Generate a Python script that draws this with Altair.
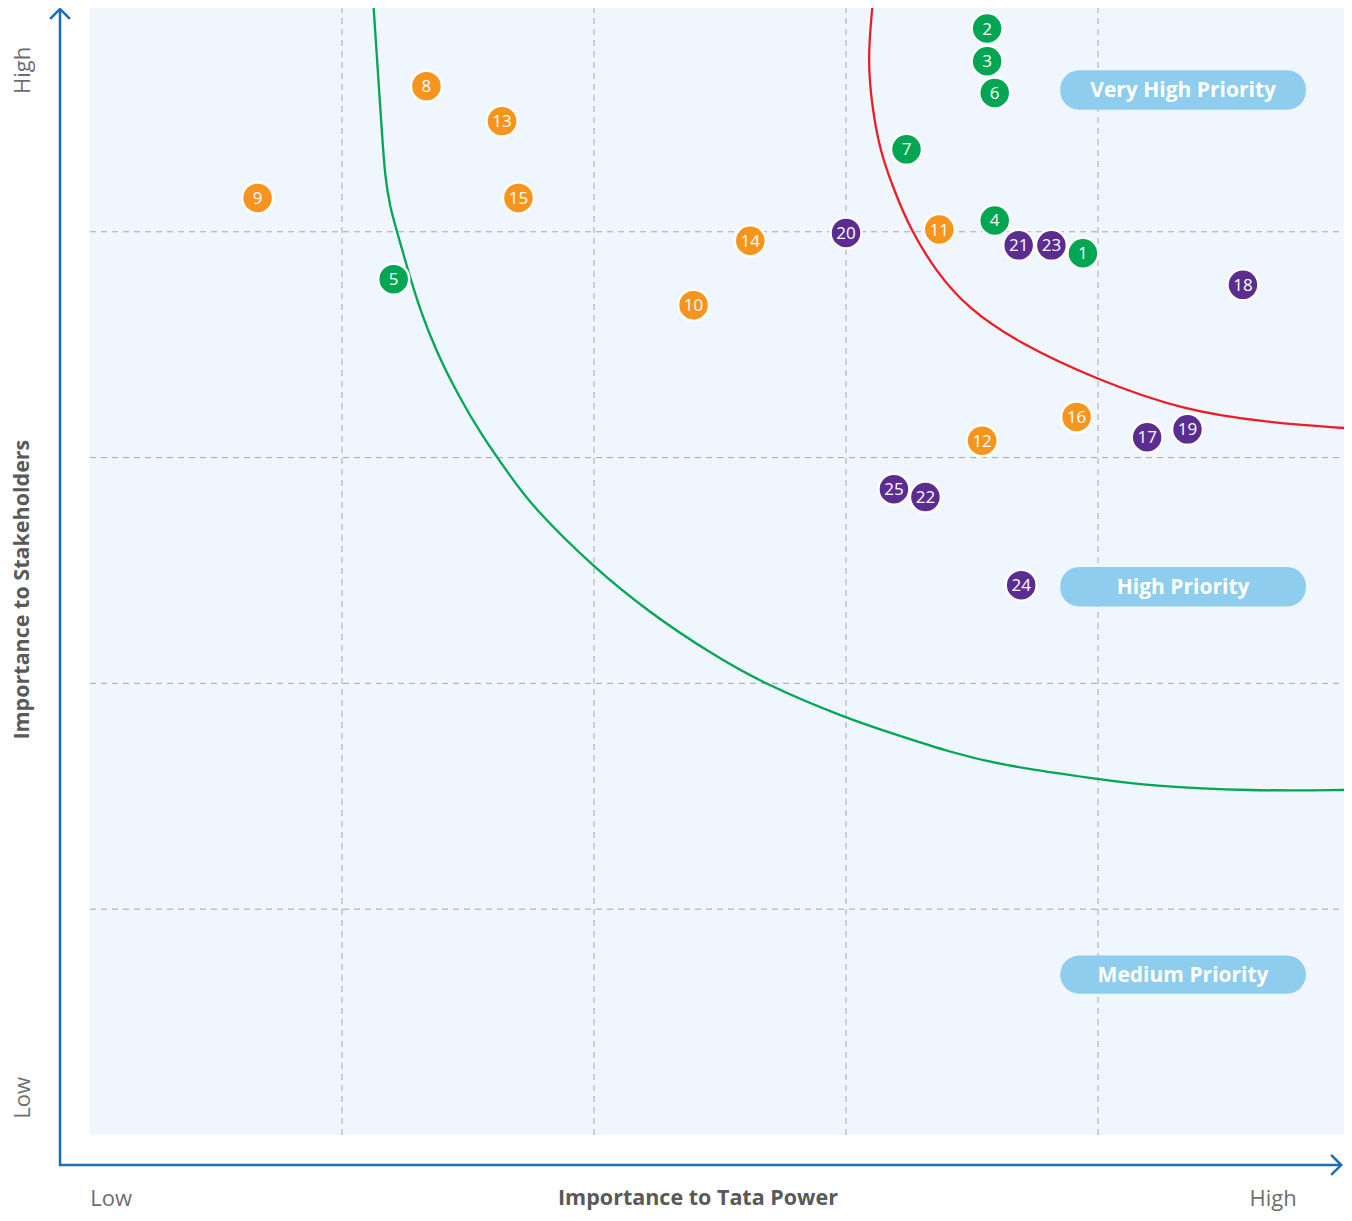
import altair as alt
import pandas as pd

# ---------------- data ----------------
ids = list(range(1, 26))
imp_tata = [78.8, 71.2, 71.2, 71.8, 24.1, 71.8, 64.8, 26.7, 13.3, 47.9, 67.4, 70.8, 32.7,
            52.4, 34.0, 78.3, 83.9, 91.5, 87.1, 60.0, 73.7, 66.3, 76.3, 73.9, 63.8]
imp_stake = [78.1, 98.0, 95.1, 81.0, 75.8, 92.3, 87.3, 92.9, 83.0, 73.5, 80.2, 61.5, 89.8,
             79.2, 83.0, 63.6, 61.8, 75.3, 62.5, 79.9, 78.8, 56.5, 78.8, 48.7, 57.2]
groups = ["A"] * 7 + ["B"] * 9 + ["C"] * 9
group_domain = ["A", "B", "C"]
group_colors = ["#00a651", "#f7941d", "#5c2d91"]

# green threshold curve (High Priority boundary)
green_x = [22.5, 23.17, 23.41, 23.81, 24.37, 25.16, 26.19, 27.54, 29.13, 30.95, 33.57, 35.16,
           39.92, 44.44, 49.21, 53.33, 59.92, 64.29, 68.25, 72.22, 79.92, 84.13, 92.06, 99.8]
green_y = [100.0, 88.75, 84.85, 82.19, 79.98, 76.88, 73.07, 69.26, 65.72, 62.18, 58.02, 55.62,
           50.31, 46.24, 42.69, 40.04, 36.94, 35.34, 33.92, 32.77, 31.53, 30.91, 30.47, 30.56]
# red threshold curve (Very High Priority boundary)
red_x = [62.1, 61.7, 62.1, 62.7, 63.7, 65.1, 67.2, 69.6, 73.6, 79.9, 86.7, 93.4, 99.8]
red_y = [100.0, 95.2, 90.8, 87.2, 84.0, 80.2, 76.4, 73.3, 70.2, 66.9, 64.2, 63.1, 62.6]

# priority band labels
pill_labels = ["Very High Priority", "High Priority", "Medium Priority"]
pill_x0 = [77.0, 77.0, 77.0]
pill_x1 = [96.5, 96.5, 96.5]
pill_y0 = [90.8, 46.8, 12.5]
pill_y1 = [94.3, 50.3, 15.9]

grid_vals = [20, 40, 60, 80]

# axis arrows
axis_x = [-2.38, -2.38, 99.3]
axis_y = [99.73, -2.66, -2.66]
head_up_x = [-3.17, -2.38, -1.59]
head_up_y = [98.85, 99.73, 98.85]
head_right_x = [98.5, 99.3, 98.5]
head_right_y = [-1.77, -2.66, -3.54]

# axis texts
rot_text = ["High", "Low"]
rot_x = [-5.35, -5.35]
rot_y = [94.3, 3.28]
rot_title = ["Importance to Stakeholders"]
rot_title_x = [-5.35]
rot_title_y = [48.3]
bot_text = ["Low", "High"]
bot_x = [1.67, 93.9]
bot_y = [-5.7, -5.7]
bot_title = ["Importance to Tata Power"]
bot_title_x = [48.25]
bot_title_y = [-5.7]

# ---------------- chart ----------------
W, H = 1336, 1205
xs = alt.Scale(domain=[-6.508, 99.52], nice=False, zero=False)
ys = alt.Scale(domain=[-6.91, 99.82], nice=False, zero=False)


def X(f="x"):
    return alt.X(f"{f}:Q", scale=xs, axis=None)


def Y(f="y"):
    return alt.Y(f"{f}:Q", scale=ys, axis=None)


bg = alt.Chart(pd.DataFrame({"x": [0], "x2": [100], "y": [0], "y2": [100]})).mark_rect(
    color="#eff6fd", clip=True
).encode(x=X(), x2="x2:Q", y=Y(), y2="y2:Q")

vgrid = alt.Chart(pd.DataFrame({"x": grid_vals, "y": [0] * 4, "y2": [100] * 4})).mark_rule(
    color="#a7a9ac", strokeDash=[6, 5], strokeWidth=1, clip=True
).encode(x=X(), y=Y(), y2="y2:Q")

hgrid = alt.Chart(pd.DataFrame({"y": grid_vals, "x": [0] * 4, "x2": [100] * 4})).mark_rule(
    color="#a7a9ac", strokeDash=[6, 5], strokeWidth=1, clip=True
).encode(y=Y(), x=X(), x2="x2:Q")

green_df = pd.DataFrame({"x": green_x, "y": green_y, "i": range(len(green_x))})
green_line = alt.Chart(green_df).mark_line(
    color="#00a651", strokeWidth=2.3, interpolate="basis", clip=True
).encode(x=X(), y=Y(), order="i:Q")

red_df = pd.DataFrame({"x": red_x, "y": red_y, "i": range(len(red_x))})
red_line = alt.Chart(red_df).mark_line(
    color="#ed1c24", strokeWidth=2.3, interpolate="basis", clip=True
).encode(x=X(), y=Y(), order="i:Q")

pill_df = pd.DataFrame({"label": pill_labels, "x": pill_x0, "x2": pill_x1,
                        "y": pill_y0, "y2": pill_y1,
                        "xc": [(a + b) / 2 for a, b in zip(pill_x0, pill_x1)],
                        "yc": [(a + b) / 2 for a, b in zip(pill_y0, pill_y1)]})
pills = alt.Chart(pill_df).mark_rect(color="#8fcdef", cornerRadius=19).encode(
    x=X(), x2="x2:Q", y=Y(), y2="y2:Q")
pill_text = alt.Chart(pill_df).mark_text(
    color="white", font="Open Sans", fontWeight="bold", fontSize=21, baseline="middle", dy=1
).encode(x=X("xc"), y=Y("yc"), text="label:N")

pts_df = pd.DataFrame({"id": ids, "x": imp_tata, "y": imp_stake, "g": groups})
circles = alt.Chart(pts_df).mark_circle(
    size=960, opacity=1, stroke="white", strokeWidth=2.5
).encode(
    x=X(), y=Y(),
    color=alt.Color("g:N", scale=alt.Scale(domain=group_domain, range=group_colors), legend=None),
)
labels = alt.Chart(pts_df).mark_text(
    color="white", font="Open Sans", fontSize=17, baseline="middle", dy=1
).encode(x=X(), y=Y(), text="id:N")

axis_df = pd.DataFrame({"x": axis_x, "y": axis_y, "i": range(3)})
axis_line = alt.Chart(axis_df).mark_line(color="#1d6cb5", strokeWidth=2.5).encode(
    x=X(), y=Y(), order="i:Q")
hu = alt.Chart(pd.DataFrame({"x": head_up_x, "y": head_up_y, "i": range(3)})).mark_line(
    color="#1d6cb5", strokeWidth=2.5).encode(x=X(), y=Y(), order="i:Q")
hr = alt.Chart(pd.DataFrame({"x": head_right_x, "y": head_right_y, "i": range(3)})).mark_line(
    color="#1d6cb5", strokeWidth=2.5).encode(x=X(), y=Y(), order="i:Q")

rot = alt.Chart(pd.DataFrame({"t": rot_text, "x": rot_x, "y": rot_y})).mark_text(
    angle=270, color="#6d6e71", font="Open Sans", fontSize=22, baseline="middle"
).encode(x=X(), y=Y(), text="t:N")
rot_t = alt.Chart(pd.DataFrame({"t": rot_title, "x": rot_title_x, "y": rot_title_y})).mark_text(
    angle=270, color="#58595b", font="Open Sans", fontWeight="bold", fontSize=21.5, baseline="middle"
).encode(x=X(), y=Y(), text="t:N")
bot = alt.Chart(pd.DataFrame({"t": bot_text, "x": bot_x, "y": bot_y})).mark_text(
    color="#6d6e71", font="Open Sans", fontSize=22, baseline="middle"
).encode(x=X(), y=Y(), text="t:N")
bot_t = alt.Chart(pd.DataFrame({"t": bot_title, "x": bot_title_x, "y": bot_title_y})).mark_text(
    color="#58595b", font="Open Sans", fontWeight="bold", fontSize=21.5, baseline="middle"
).encode(x=X(), y=Y(), text="t:N")

chart = alt.layer(
    bg, vgrid, hgrid, green_line, red_line, pills, pill_text, circles, labels,
    axis_line, hu, hr, rot, rot_t, bot, bot_t
).properties(
    width=W, height=H, padding=0,
    autosize=alt.AutoSizeParams(type="none"),
    background="white",
).configure_view(stroke=None)

chart.save("out.html", embed_options={"renderer": "svg", "actions": False})
